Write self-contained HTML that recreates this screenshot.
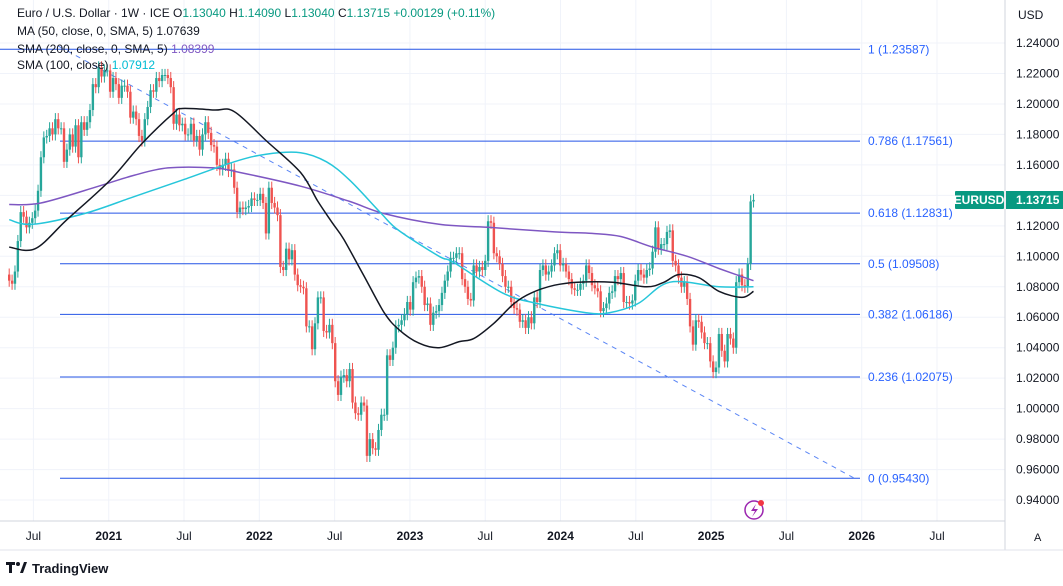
<!DOCTYPE html>
<html><head><meta charset="utf-8">
<style>
html,body{margin:0;padding:0;background:#fff;}
body{width:1063px;height:581px;overflow:hidden;font-family:"Liberation Sans",sans-serif;}
svg text{font-family:"Liberation Sans",sans-serif;}
</style></head>
<body>
<svg id="chart" width="1063" height="581">
  <g id="grid"></g>
  <g id="fib"></g>
  <g id="candles"></g>
  <g id="mas"></g>
  <g id="axes"></g>
  <line x1="1005" y1="0" x2="1005" y2="550" stroke="#d1d4dc"/>
  <line x1="0" y1="521" x2="1005" y2="521" stroke="#d1d4dc"/>
  <line x1="0" y1="550" x2="1063" y2="550" stroke="#e0e3eb"/>
  <text x="1018" y="19" font-size="12" fill="#131722">USD</text>
  <text x="1034" y="541" font-size="11" fill="#131722">A</text>
  <g font-size="12" fill="#131722">
    <text x="17" y="17">Euro / U.S. Dollar · 1W · ICE  <tspan fill="#131722">O</tspan><tspan fill="#089981">1.13040</tspan>  <tspan fill="#131722">H</tspan><tspan fill="#089981">1.14090</tspan>  <tspan fill="#131722">L</tspan><tspan fill="#089981">1.13040</tspan>  <tspan fill="#131722">C</tspan><tspan fill="#089981">1.13715  +0.00129 (+0.11%)</tspan></text>
    <text x="17" y="35">MA (50, close, 0, SMA, 5)  <tspan fill="#131722">1.07639</tspan></text>
    <text x="17" y="53">SMA (200, close, 0, SMA, 5)  <tspan fill="#7e57c2">1.08399</tspan></text>
    <text x="17" y="69">SMA (100, close)  <tspan fill="#00bcd4">1.07912</tspan></text>
  </g>
  <g>
    <rect x="955" y="191" width="49" height="18" fill="#089981" rx="1"/>
    <text x="979" y="204" font-size="12" fill="#fff" text-anchor="middle" font-weight="bold">EURUSD</text>
    <rect x="1006" y="191" width="57" height="18" fill="#089981"/>
    <text x="1016" y="204" font-size="12" fill="#fff" font-weight="bold">1.13715</text>
  </g>
  <g>
    <circle cx="754" cy="510" r="9" fill="#fff" stroke="#9c27b0" stroke-width="1.5"/>
    <path d="M756 504 L751 511 L755 511 L752 517 L758 509 L754 509 Z" fill="#9c27b0"/>
    <circle cx="761" cy="503" r="3" fill="#f23645"/>
  </g>
  <g>
    <path d="M6 562 h9 v3 h-3 v8 h-3 v-8 h-3 Z" fill="#131722"/>
    <circle cx="18" cy="564" r="2" fill="#131722"/>
    <path d="M20 573 l4 -11 h3 l-4 11 Z" fill="#131722"/>
    <text x="32" y="573" font-size="13" fill="#131722" font-weight="bold">TradingView</text>
  </g>
</svg>
<script>
// weekly closes from early May 2020
const closes=[1.084,1.082,1.090,1.110,1.129,1.126,1.119,1.122,1.125,1.130,1.143,1.165,1.178,1.179,1.184,1.180,1.190,1.184,1.184,1.162,1.170,1.180,1.172,1.186,1.165,1.188,1.183,1.188,1.196,1.213,1.211,1.224,1.218,1.222,
1.222,1.208,1.217,1.213,1.204,1.212,1.212,1.208,1.191,1.195,1.190,1.179,1.176,1.190,1.198,1.209,1.208,1.217,1.215,1.219,1.219,1.217,1.211,1.187,1.193,1.186,1.187,1.180,1.180,1.187,1.176,1.179,1.170,1.180,1.188,1.181,1.173,1.172,1.160,1.157,1.160,1.164,1.156,1.157,1.145,1.129,1.132,1.131,1.132,1.133,1.138,1.137,
1.137,1.141,1.135,1.115,1.145,1.135,1.132,1.127,1.093,1.091,1.105,1.098,1.104,1.088,1.081,1.080,1.079,1.054,1.054,1.039,1.056,1.073,1.073,1.051,1.050,1.055,1.043,1.018,1.009,1.021,1.022,1.018,1.026,1.004,0.997,0.996,1.004,1.002,0.969,0.980,0.974,0.973,0.986,0.996,0.996,1.035,1.032,1.040,1.054,1.055,1.058,1.062,1.070,
1.065,1.083,1.086,1.087,1.080,1.068,1.069,1.055,1.063,1.064,1.068,1.076,1.084,1.090,1.099,1.099,1.102,1.102,1.085,1.080,1.072,1.071,1.094,1.090,1.093,1.091,1.097,1.123,1.122,1.102,1.100,1.095,1.087,1.080,1.080,1.070,1.066,1.065,1.057,1.058,1.053,1.060,1.056,1.073,1.070,1.091,1.094,1.088,1.090,1.094,1.102,1.104,
1.094,1.095,1.090,1.085,1.079,1.078,1.078,1.082,1.084,1.094,1.089,1.081,1.079,1.077,1.064,1.066,1.069,1.076,1.077,1.087,1.085,1.089,1.070,1.070,1.069,1.071,1.084,1.091,1.088,1.086,1.091,1.092,1.103,1.119,1.105,1.108,1.108,1.116,1.117,1.097,1.094,1.086,1.080,1.083,1.072,1.054,1.042,1.058,1.057,1.050,1.043,1.043,
1.031,1.024,1.027,1.049,1.038,1.031,1.049,1.046,1.040,1.083,1.088,1.081,1.080,1.095,1.136,1.137];
const firstOpen=1.088;
// moving averages: [week index, value]
const ma50=[[0,1.106],[9,1.105],[20,1.124],[35,1.150],[46,1.174],[57,1.194],[60,1.197],[71,1.196],[78,1.195],[89,1.176],[101,1.155],[107,1.136],[112,1.122],[116,1.111],[123,1.087],[130,1.063],[135,1.052],[142,1.043],[149,1.040],[156,1.044],[161,1.046],[168,1.056],[175,1.069],[181,1.076],[189,1.081],[197,1.083],[209,1.083],[221,1.080],[227,1.083],[232,1.088],[239,1.086],[246,1.077],[254,1.073],[258,1.077]];
const sma200=[[0,1.134],[11,1.135],[31,1.146],[43,1.153],[55,1.158],[71,1.158],[80,1.155],[101,1.146],[118,1.136],[130,1.128],[149,1.121],[166,1.119],[189,1.116],[202,1.115],[212,1.113],[223,1.106],[235,1.100],[246,1.092],[258,1.084]];
const sma100=[[0,1.124],[8,1.121],[26,1.128],[43,1.139],[60,1.150],[78,1.162],[89,1.167],[101,1.168],[110,1.162],[118,1.150],[129,1.128],[135,1.117],[149,1.100],[154,1.096],[171,1.076],[183,1.069],[200,1.063],[208,1.063],[218,1.069],[229,1.083],[246,1.080],[258,1.080]];
const priceTicks=[1.24,1.22,1.20,1.18,1.16,1.14,1.12,1.10,1.08,1.06,1.04,1.02,1.00,0.98,0.96,0.94];
const timeLabels=["Jul","2021","Jul","2022","Jul","2023","Jul","2024","Jul","2025","Jul","2026","Jul"];
const fibRatios=["1","0.786","0.618","0.5","0.382","0.236","0"];
const fibLevels=[1.23587,1.17561,1.12831,1.09508,1.06186,1.02075,0.95430];
const trendStart=[17,1.238];
const trendEnd=[293,0.9543];

const NS="http://www.w3.org/2000/svg";
function y(p){return 43+(1.24-p)/0.02*30.47;}
function x(i){return 9.2+2.885*i;}
function mk(tag,attrs,parent){const e=document.createElementNS(NS,tag);for(const k in attrs)e.setAttribute(k,attrs[k]);parent.appendChild(e);return e;}
const grid=document.getElementById('grid'),axes=document.getElementById('axes');
priceTicks.forEach(p=>{
  const l=mk('line',{x1:0,x2:1005,y1:y(p),y2:y(p),stroke:'#f0f3fa'},grid);
  
  
  const t=mk('text',{x:1016,y:y(p)+4,'font-size':12,fill:'#131722'},axes);
  t.textContent=p.toFixed(5);
  
  
});
timeLabels.forEach((s,k)=>{
  const xi=x(8.4+26.1*k);
  const l=mk('line',{x1:xi,x2:xi,y1:0,y2:521,stroke:'#f0f3fa'},grid);
  
  
  const t=mk('text',{x:xi,y:540,'font-size':12,fill:'#131722','text-anchor':'middle','font-weight':/^\d/.test(s)?'bold':'normal'},axes);
  t.textContent=s;
  
  
});
const fib=document.getElementById('fib');
fibLevels.forEach((p,k)=>{
  const l=mk('line',{x1:k==0?0:60,x2:860,y1:y(p),y2:y(p),stroke:'#2454e6','stroke-width':1},fib);
  
  
  const t=mk('text',{x:868,y:y(p)+4,'font-size':12,fill:'#2962ff'},fib);
  t.textContent=fibRatios[k]+' ('+p.toFixed(5)+')';
  
  
});
const tl=mk('line',{x1:x(trendStart[0]),y1:y(trendStart[1]),x2:x(trendEnd[0]),y2:y(trendEnd[1]),stroke:'#5b86f5','stroke-width':1,'stroke-dasharray':'5,5'},fib);


const cg=document.getElementById('candles');
let prev=firstOpen;
closes.forEach((c,i)=>{
  const o=prev;prev=c;
  const up=c>=o, col=up?'#26a69a':'#ef5350';
  const hi=Math.max(o,c)+0.004, lo=Math.min(o,c)-0.004;
  const g=mk('g',{},cg);
  
  
  mk('line',{x1:x(i),x2:x(i),y1:y(hi),y2:y(lo),stroke:col,'stroke-width':1},g);
  const top=y(Math.max(o,c)),bh=Math.max(1,y(Math.min(o,c))-top);
  mk('rect',{x:x(i)-1.2,y:top,width:2.4,height:bh,fill:col},g);
});
const mg=document.getElementById('mas');
function drawLine(arr,col,name){
  const P=arr.map(p=>[x(p[0]),y(p[1])]);
  let d='M'+P[0][0].toFixed(1)+' '+P[0][1].toFixed(1);
  for(let k=0;k<P.length-1;k++){
    const p0=P[Math.max(0,k-1)],p1=P[k],p2=P[k+1],p3=P[Math.min(P.length-1,k+2)];
    const c1=[p1[0]+(p2[0]-p0[0])/6,p1[1]+(p2[1]-p0[1])/6];
    const c2=[p2[0]-(p3[0]-p1[0])/6,p2[1]-(p3[1]-p1[1])/6];
    d+=' C'+c1[0].toFixed(1)+' '+c1[1].toFixed(1)+' '+c2[0].toFixed(1)+' '+c2[1].toFixed(1)+' '+p2[0].toFixed(1)+' '+p2[1].toFixed(1);
  }
  const pth=mk('path',{d:d,fill:'none',stroke:col,'stroke-width':1.5,'stroke-linejoin':'round'},mg);
  
  
}
drawLine(sma200,'#7e57c2','sma200-line');
drawLine(sma100,'#26c6da','sma100-line');
drawLine(ma50,'#131722','ma50-line');
</script>
</body></html>
